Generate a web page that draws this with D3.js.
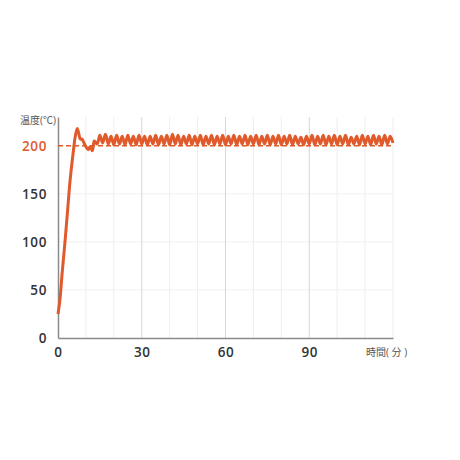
<!DOCTYPE html>
<html>
<head>
<meta charset="utf-8">
<script src="https://cdn.jsdelivr.net/npm/d3@7"></script>
<style>
  body { margin: 0; background: #fff; }
  svg text { font-family: "Open Sans", "Noto Sans CJK JP", sans-serif; }
</style>
</head>
<body>
<div id="chart"></div>
<script>
// temperature curve, minutes vs degrees
const timeMin = [0, 0.7, 1.5, 2.5, 3.5, 4.3, 5, 5.6, 6.2, 6.9, 7.5, 8, 8.6, 9.3, 10, 10.8, 11.5, 12.3, 13,
  14, 15, 16, 17, 18, 19, 20, 21, 22, 23, 24, 25, 26, 27, 28, 29, 30, 31, 32, 33, 34, 35, 36, 37, 38, 39,
  40, 41, 42, 43, 44, 45, 46, 47, 48, 49, 50, 51, 52, 53, 54, 55, 56, 57, 58, 59, 60, 61, 62, 63, 64, 65,
  66, 67, 68, 69, 70, 71, 72, 73, 74, 75, 76, 77, 78, 79, 80, 81, 82, 83, 84, 85, 86, 87, 88, 89, 90, 91,
  92, 93, 94, 95, 96, 97, 98, 99, 100, 101, 102, 103, 104, 105, 106, 107, 108, 109, 110, 111, 112, 113,
  114, 115, 116, 117, 118, 119, 120];
const tempC = [25, 40, 68, 100, 135, 163, 182, 197, 210, 218, 212, 207, 207, 203, 199, 196, 199, 195, 205,
  202, 211, 203, 212, 202, 210, 201, 211, 202, 210, 201, 211, 202, 210, 201, 211, 202, 210, 201, 210, 202,
  211, 201, 210, 202, 211, 201, 212, 202, 211, 201, 210, 202, 211, 201, 210, 202, 211, 201, 210, 202, 211,
  201, 210, 202, 211, 201, 210, 202, 211, 201, 210, 202, 211, 201, 210, 202, 211, 201, 210, 202, 211, 201,
  210, 202, 211, 201, 210, 202, 211, 201, 210, 202, 209, 201, 210, 202, 211, 201, 210, 202, 211, 201, 210,
  202, 211, 201, 210, 202, 211, 201, 209, 202, 210, 201, 211, 202, 210, 201, 211, 202, 210, 201, 211, 202,
  210, 203];

const xTicks = [0, 30, 60, 90];
const xGrid = [10, 20, 30, 40, 50, 60, 70, 80, 90, 100, 110, 120];
const xMajor = [30, 60, 90];
const yTicks = [0, 50, 100, 150, 200];
const yGrid = [50, 100, 150];
const target = 200;

const orange = "#e05a2b";

const svg = d3.select("#chart").append("svg")
  .attr("width", 460)
  .attr("height", 460);

const x = d3.scaleLinear().domain([0, 120]).range([58, 393]);
const y = d3.scaleLinear().domain([0, 230]).range([338, 117]);

// grid
svg.append("g").selectAll("line")
  .data(yGrid).join("line")
  .attr("x1", x(0)).attr("x2", x(120))
  .attr("y1", d => y(d)).attr("y2", d => y(d))
  .attr("stroke", "#f0f0f0").attr("stroke-width", 1);

svg.append("g").selectAll("line")
  .data(xGrid).join("line")
  .attr("x1", d => x(d)).attr("x2", d => x(d))
  .attr("y1", y(0)).attr("y2", y(230))
  .attr("stroke", d => xMajor.includes(d) ? "#d6d6d6" : "#eeeeee")
  .attr("stroke-width", 1);

// axes
const xAxis = svg.append("g")
  .attr("transform", `translate(0,${y(0)})`)
  .call(d3.axisBottom(x).tickValues(xTicks).tickSize(0).tickPadding(9));
xAxis.select(".domain").attr("stroke", "#8a8a8a").attr("stroke-width", 1.5);

const yAxis = svg.append("g")
  .attr("transform", `translate(${x(0)},0)`)
  .call(d3.axisLeft(y).tickValues(yTicks).tickSize(0).tickPadding(11));
yAxis.select(".domain").attr("stroke", "#8a8a8a").attr("stroke-width", 1.5);

svg.selectAll(".tick text")
  .attr("font-size", 13.5)
  .attr("font-weight", 600)
  .attr("fill", "#333")
  .attr("letter-spacing", 0.6)
  .style("font-family", "'Open Sans', sans-serif");
yAxis.selectAll(".tick text").filter(d => d === target).attr("fill", orange);

// target line
svg.append("line")
  .attr("x1", x(0)).attr("x2", x(120))
  .attr("y1", y(target)).attr("y2", y(target))
  .attr("stroke", orange)
  .attr("stroke-width", 1.5)
  .attr("stroke-dasharray", "5,3");

// curve
const points = timeMin.map((t, i) => [t, tempC[i]]);
const line = d3.line()
  .x(d => x(d[0]))
  .y(d => y(d[1]))
  .curve(d3.curveCatmullRom);

svg.append("path")
  .datum(points)
  .attr("fill", "none")
  .attr("stroke", orange)
  .attr("stroke-width", 3)
  .attr("stroke-linejoin", "round")
  .attr("d", line);

// axis titles
svg.append("text")
  .attr("x", 20).attr("y", 124)
  .attr("font-size", 10)
  .attr("fill", "#555")
  .text("温度(℃)");

svg.append("text")
  .attr("x", 366).attr("y", 356)
  .attr("font-size", 10)
  .attr("fill", "#555")
  .text("時間( 分 )");
</script>
</body>
</html>
